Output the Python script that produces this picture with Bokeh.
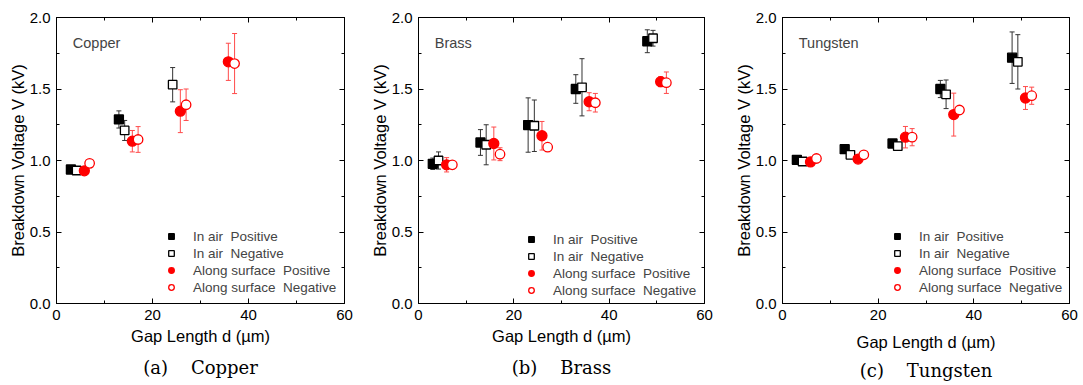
from bokeh.plotting import figure
from bokeh.models import (Range1d, LinearAxis, Whisker, ColumnDataSource, Label, Title,
                          Legend, LegendItem, TeeHead, FixedTicker)
from bokeh.layouts import row
from bokeh.embed import file_html
from bokeh.resources import INLINE

# ---------------- data (d in um, V in kV, e = half error bar) ----------------
cu_air_pos_d = [3.0, 13.0]
cu_air_pos_v = [0.937, 1.287]
cu_air_pos_e = [0.01, 0.06]
cu_air_neg_d = [4.2, 14.2, 24.2]
cu_air_neg_v = [0.93, 1.21, 1.53]
cu_air_neg_e = [0.015, 0.07, 0.12]
cu_surf_pos_d = [5.8, 15.8, 25.8, 35.8]
cu_surf_pos_v = [0.928, 1.135, 1.345, 1.69]
cu_surf_pos_e = [0.01, 0.075, 0.15, 0.13]
cu_surf_neg_d = [6.9, 17.0, 27.0, 37.1]
cu_surf_neg_v = [0.98, 1.147, 1.39, 1.678]
cu_surf_neg_e = [0.01, 0.09, 0.11, 0.21]

br_air_pos_d = [3.0, 13.0, 23.0, 33.0, 48.0]
br_air_pos_v = [0.977, 1.126, 1.248, 1.50, 1.834]
br_air_pos_e = [0.04, 0.09, 0.19, 0.10, 0.08]
br_air_neg_d = [4.2, 14.2, 24.3, 34.3, 49.2]
br_air_neg_v = [1.0, 1.11, 1.243, 1.512, 1.855]
br_air_neg_e = [0.06, 0.14, 0.18, 0.20, 0.055]
br_surf_pos_d = [5.9, 15.8, 25.9, 35.8, 50.8]
br_surf_pos_v = [0.97, 1.119, 1.173, 1.411, 1.551]
br_surf_pos_e = [0.05, 0.115, 0.10, 0.063, 0.035]
br_surf_neg_d = [7.1, 17.1, 27.1, 37.1, 52.0]
br_surf_neg_v = [0.97, 1.044, 1.093, 1.404, 1.544]
br_surf_neg_e = [0.02, 0.045, 0.01, 0.065, 0.075]

w_air_pos_d = [3.0, 13.0, 23.0, 33.0, 48.0]
w_air_pos_v = [1.005, 1.079, 1.119, 1.50, 1.719]
w_air_pos_e = [0.01, 0.025, 0.02, 0.06, 0.18]
w_air_neg_d = [4.2, 14.2, 24.1, 34.2, 49.2]
w_air_neg_v = [0.993, 1.04, 1.10, 1.463, 1.69]
w_air_neg_e = [0.01, 0.01, 0.01, 0.10, 0.19]
w_surf_pos_d = [5.85, 15.8, 25.7, 35.8, 50.8]
w_surf_pos_v = [0.99, 1.01, 1.163, 1.321, 1.437]
w_surf_pos_e = [0.01, 0.01, 0.075, 0.15, 0.08]
w_surf_neg_d = [7.1, 17.0, 27.1, 37.0, 52.1]
w_surf_neg_v = [1.014, 1.04, 1.163, 1.353, 1.453]
w_surf_neg_e = [0.01, 0.01, 0.06, 0.015, 0.06]

legend_labels = ["In air\u00a0\u00a0Positive", "In air\u00a0\u00a0Negative",
                 "Along surface\u00a0\u00a0Positive", "Along surface\u00a0\u00a0Negative"]
x_ticks = [0, 20, 40, 60]
x_minor = [10, 30, 50]
y_ticks = [0.0, 0.5, 1.0, 1.5, 2.0]
y_minor = [0.25, 0.75, 1.25, 1.75]
y_tick_labels = ["0.0", "0.5", "1.0", "1.5", "2.0"]
x_title = "Gap Length d (\u00b5m)"
y_title = "Breakdown Voltage V (kV)"

SANS = "Liberation Sans"
SERIF = "DejaVu Serif"
H = 385


def style_axis(ax, ticker, labels=True):
    ax.ticker = ticker
    ax.axis_line_color = "black"
    ax.major_tick_line_color = "black"
    ax.minor_tick_line_color = "black"
    ax.major_tick_in = 5
    ax.major_tick_out = 0
    ax.minor_tick_in = 3
    ax.minor_tick_out = 0
    if labels:
        ax.major_label_text_font = SANS
        ax.major_label_text_font_size = "15px"
        ax.major_label_text_color = "black"
        ax.major_label_standoff = 6
    else:
        ax.major_label_text_font_size = "0px"
        ax.major_label_text_color = None
        ax.major_label_standoff = 0


def panel(name, caption, series, width, bl, br, leg_x, leg_y, cap_off, xl_standoff, cap_standoff):
    p = figure(width=width, height=H, x_range=Range1d(0, 60), y_range=Range1d(0, 2),
               output_backend="svg", toolbar_location=None,
               min_border_left=bl, min_border_right=br, min_border_top=17,
               min_border_bottom=82)
    p.grid.visible = False
    p.outline_line_color = "black"
    p.outline_line_width = 1
    xt = FixedTicker(ticks=x_ticks, minor_ticks=x_minor)
    yt = FixedTicker(ticks=y_ticks, minor_ticks=y_minor)
    xa = p.xaxis[0]
    ya = p.yaxis[0]
    style_axis(xa, xt)
    style_axis(ya, yt)
    ya.major_label_overrides = {t: s for t, s in zip(y_ticks, y_tick_labels)}
    xa.axis_label = x_title
    ya.axis_label = y_title
    for ax in (xa, ya):
        ax.axis_label_text_font = SANS
        ax.axis_label_text_font_size = "16.5px"
        ax.axis_label_text_font_style = "normal"
        ax.axis_label_text_color = "black"
    xa.axis_label_standoff = xl_standoff
    ya.axis_label_standoff = 0
    top = LinearAxis()
    style_axis(top, FixedTicker(ticks=x_ticks, minor_ticks=x_minor), labels=False)
    p.add_layout(top, "above")
    right = LinearAxis()
    style_axis(right, FixedTicker(ticks=y_ticks, minor_ticks=y_minor), labels=False)
    p.add_layout(right, "right")

    styles = [
        dict(marker="square", size=9, fill_color="black", line_color="black", ecol="#333333"),
        dict(marker="square", size=8.5, fill_color="white", line_color="black", ecol="#333333"),
        dict(marker="circle", size=10, fill_color="red", line_color="red", ecol="#ff4a4a"),
        dict(marker="circle", size=9.5, fill_color="white", line_color="red", ecol="#ff4a4a"),
    ]
    items = []
    for (d, v, e), st, lab in zip(series, styles, legend_labels):
        src = ColumnDataSource(dict(x=d, y=v,
                                    upper=[a + b for a, b in zip(v, e)],
                                    lower=[a - b for a, b in zip(v, e)]))
        wk = Whisker(base="x", upper="upper", lower="lower", source=src,
                     dimension="height", line_color=st["ecol"], line_width=1,
                     upper_head=TeeHead(size=5, line_color=st["ecol"], line_width=1),
                     lower_head=TeeHead(size=5, line_color=st["ecol"], line_width=1))
        p.add_layout(wk)
        r = p.scatter("x", "y", source=src, marker=st["marker"], size=st["size"],
                      fill_color=st["fill_color"], line_color=st["line_color"],
                      line_width=1.3)
        items.append(LegendItem(label=lab, renderers=[r]))
    leg = Legend(items=items, location=(leg_x, leg_y), padding=0, margin=0, spacing=1,
                 label_height=16, glyph_height=16, glyph_width=14, label_standoff=15,
                 label_text_font=SANS, label_text_font_size="13.5px",
                 background_fill_alpha=0, border_line_alpha=0)
    p.add_layout(leg)

    # material name
    p.add_layout(Label(x=3.4, y=1.82, text=name, text_font=SANS, text_font_size="14.5px",
                       text_baseline="middle", text_align="left"))
    # caption below the panel
    p.add_layout(Title(text=caption, align="center", text_font=SERIF, text_font_size="18px",
                       text_font_style="normal", text_color="black", offset=cap_off,
                       standoff=cap_standoff), "below")
    return p


NB = "\u00a0" * 4
pa = panel("Copper", "(a)" + NB + "Copper",
           [(cu_air_pos_d, cu_air_pos_v, cu_air_pos_e), (cu_air_neg_d, cu_air_neg_v, cu_air_neg_e),
            (cu_surf_pos_d, cu_surf_pos_v, cu_surf_pos_e), (cu_surf_neg_d, cu_surf_neg_v, cu_surf_neg_e)],
           width=361, bl=56, br=17, leg_x=108, leg_y=8, cap_off=-4, xl_standoff=4, cap_standoff=15)
pb = panel("Brass", "(b)" + NB + "Brass",
           [(br_air_pos_d, br_air_pos_v, br_air_pos_e), (br_air_neg_d, br_air_neg_v, br_air_neg_e),
            (br_surf_pos_d, br_surf_pos_v, br_surf_pos_e), (br_surf_neg_d, br_surf_neg_v, br_surf_neg_e)],
           width=361, bl=57, br=18, leg_x=106, leg_y=5, cap_off=-17, xl_standoff=4, cap_standoff=15)
pc = panel("Tungsten", "(c)" + NB + "Tungsten",
           [(w_air_pos_d, w_air_pos_v, w_air_pos_e), (w_air_neg_d, w_air_neg_v, w_air_neg_e),
            (w_surf_pos_d, w_surf_pos_v, w_surf_pos_e), (w_surf_neg_d, w_surf_neg_v, w_surf_neg_e)],
           width=361, bl=60, br=14, leg_x=108, leg_y=8, cap_off=3, xl_standoff=10, cap_standoff=8)

layout = row(pa, pb, pc)
open("out.html", "w").write(file_html(layout, INLINE))
